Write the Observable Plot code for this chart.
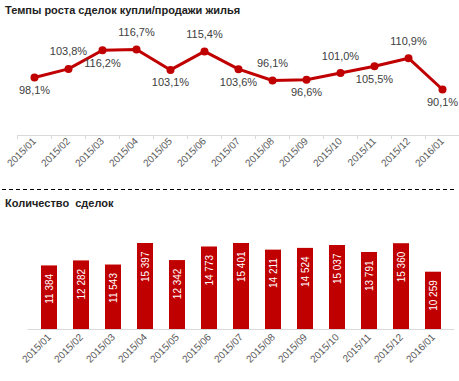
<!DOCTYPE html>
<html>
<head>
<meta charset="utf-8">
<script src="https://cdn.jsdelivr.net/npm/d3@7"></script>
<script src="https://cdn.jsdelivr.net/npm/@observablehq/plot@0.6"></script>
<style>
  body { margin: 0; background: #fff; font-family: "Liberation Sans", Arial, sans-serif; }
  #wrap { position: relative; width: 459px; height: 381px; overflow: hidden; }
  .title { position: absolute; left: 5px; font-weight: bold; font-size: 11px; color: #222; white-space: nowrap; line-height: 14px; }
  .sep { position: absolute; left: 2px; width: 452px; height: 1px; top: 189px;
         background: repeating-linear-gradient(to right, #000 0 4px, transparent 4px 7px); }
  .chart { position: absolute; left: 0; }
</style>
</head>
<body>
<div id="wrap">
  <div class="title" id="t1" style="top:3px">Темпы роста сделок купли/продажи жилья</div>
  <div class="chart" id="c1" style="top:20px"></div>
  <div class="sep"></div>
  <div class="title" id="t2" style="top:196px">Количество&nbsp; сделок</div>
  <div class="chart" id="c2" style="top:215px"></div>
</div>
<script>
const months = ["2015/01","2015/02","2015/03","2015/04","2015/05","2015/06","2015/07","2015/08","2015/09","2015/10","2015/11","2015/12","2016/01"];
const growth = [98.1,103.8,116.2,116.7,103.1,115.4,103.6,96.1,96.6,101.0,105.5,110.9,90.1];
const growthLabels = ["98,1%","103,8%","116,2%","116,7%","103,1%","115,4%","103,6%","96,1%","96,6%","101,0%","105,5%","110,9%","90,1%"];
const deals = [11384,12282,11543,15397,12342,14773,15401,14211,14524,15037,13791,15360,10259];
const dealLabels = ["11 384","12 282","11 543","15 397","12 342","14 773","15 401","14 211","14 524","15 037","13 791","15 360","10 259"];

const red = "#C00000";
const font = "'Liberation Sans', Arial, sans-serif";

const gData = months.map((m, i) => ({m, v: growth[i], label: growthLabels[i], i}));
const bData = months.map((m, i) => ({m, v: deals[i], label: dealLabels[i]}));

const chartTop = Plot.plot({
  width: 459, height: 150,
  marginLeft: 17, marginRight: 0, marginTop: 0, marginBottom: 35,
  style: {fontFamily: font, background: "transparent", overflow: "visible"},
  x: {type: "point", domain: months, padding: 0.5, label: null},
  y: {domain: [80, 120], range: [84.2, 24.0], axis: null},
  marks: [
    Plot.frame({anchor: "bottom", stroke: "#d9d9d9"}),
    Plot.axisX({tickSize: 4, tickFormat: () => "", dx: -17, stroke: "#d9d9d9"}),
    Plot.axisX({tickSize: 0, tickRotate: -45, tickPadding: 4, fontSize: 10, fill: "#595959", textAnchor: "end"}),
    Plot.line(gData, {x: "m", y: "v", stroke: red, strokeWidth: 3}),
    Plot.dot(gData, {x: "m", y: "v", r: 4, fill: red, stroke: "none"}),
    Plot.text(gData.filter(d => d.i % 2 === 0), {x: "m", y: "v", text: "label", dy: 13, fontSize: 11, fill: "#404040"}),
    Plot.text(gData.filter(d => d.i % 2 === 1), {x: "m", y: "v", text: "label", dy: -17, fontSize: 11, fill: "#404040"})
  ]
});
document.getElementById("c1").appendChild(chartTop);

const chartBottom = Plot.plot({
  width: 459, height: 166,
  marginLeft: 27.6, marginRight: 5.6, marginTop: 0, marginBottom: 52,
  style: {fontFamily: font, background: "transparent", overflow: "visible"},
  x: {type: "band", domain: months, paddingInner: 0.511, paddingOuter: 0.2555, label: null},
  y: {domain: [0, 20000], range: [114, 2.3], axis: null},
  marks: [
    Plot.barY(bData, {x: "m", y: "v", fill: red}),
    Plot.frame({anchor: "bottom", stroke: "#d9d9d9"}),
    Plot.axisX({tickSize: 0, tickRotate: -45, tickPadding: 6, fontSize: 10, fill: "#595959", textAnchor: "end"}),
    Plot.text(bData, {x: "m", y: "v", text: "label", rotate: -90, textAnchor: "end", dy: 8, fontSize: 10, fill: "#fff"})
  ]
});
document.getElementById("c2").appendChild(chartBottom);
</script>
</body>
</html>
